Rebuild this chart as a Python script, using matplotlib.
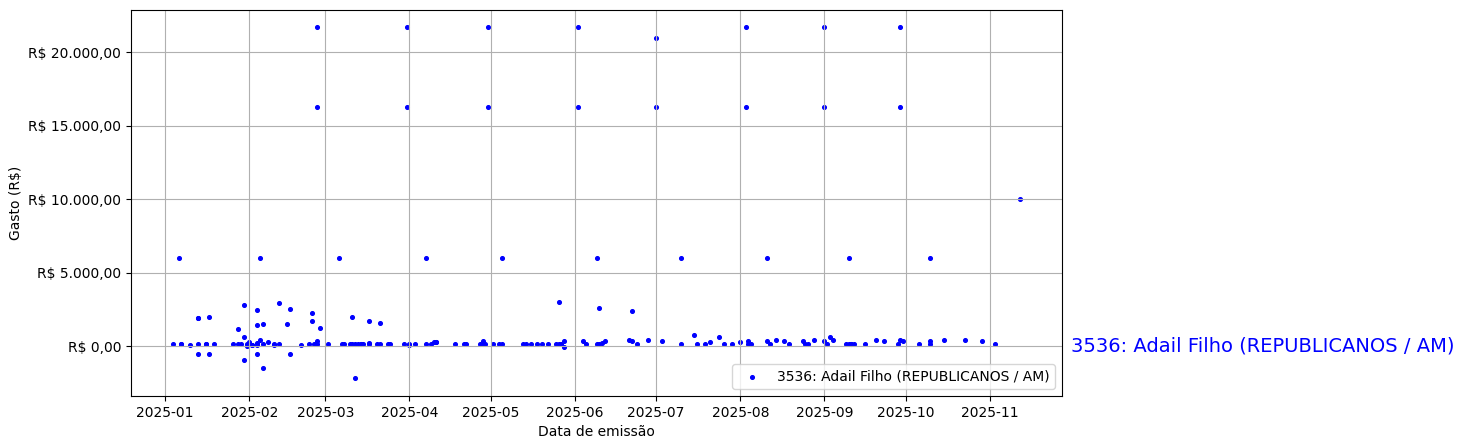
import matplotlib
matplotlib.use("Agg")
import matplotlib.pyplot as plt
import matplotlib.ticker as mticker
import matplotlib.transforms as mtransforms
import pandas as pd

label = "3536: Adail Filho (REPUBLICANOS / AM)"

datas = [
    "2025-01-04", "2025-01-06", "2025-01-07", "2025-01-07", "2025-01-10",
    "2025-01-13", "2025-01-13", "2025-01-13", "2025-01-13", "2025-01-16",
    "2025-01-16", "2025-01-17", "2025-01-17", "2025-01-19", "2025-01-26",
    "2025-01-28", "2025-01-28", "2025-01-29", "2025-01-30", "2025-01-30",
    "2025-01-30", "2025-01-31", "2025-01-31",
    "2025-02-01", "2025-02-02", "2025-02-02", "2025-02-04", "2025-02-04",
    "2025-02-04", "2025-02-04", "2025-02-04", "2025-02-05", "2025-02-05",
    "2025-02-06", "2025-02-06", "2025-02-06", "2025-02-08", "2025-02-10",
    "2025-02-10", "2025-02-12", "2025-02-12", "2025-02-15", "2025-02-16",
    "2025-02-16", "2025-02-20", "2025-02-23", "2025-02-24", "2025-02-24",
    "2025-02-25", "2025-02-26", "2025-02-26", "2025-02-26", "2025-02-26",
    "2025-02-27",
    "2025-03-02", "2025-03-06", "2025-03-07", "2025-03-08", "2025-03-10",
    "2025-03-11", "2025-03-11", "2025-03-12", "2025-03-12", "2025-03-13",
    "2025-03-14", "2025-03-14", "2025-03-15", "2025-03-17", "2025-03-17",
    "2025-03-17", "2025-03-20", "2025-03-21", "2025-03-21", "2025-03-24",
    "2025-03-25", "2025-03-30", "2025-03-31", "2025-03-31",
    "2025-04-01", "2025-04-01", "2025-04-03", "2025-04-07", "2025-04-07",
    "2025-04-09", "2025-04-10", "2025-04-11", "2025-04-11", "2025-04-18",
    "2025-04-21", "2025-04-22", "2025-04-27", "2025-04-28", "2025-04-28",
    "2025-04-29", "2025-04-30", "2025-04-30",
    "2025-05-02", "2025-05-04", "2025-05-05", "2025-05-05", "2025-05-13",
    "2025-05-14", "2025-05-16", "2025-05-18", "2025-05-20", "2025-05-22",
    "2025-05-25", "2025-05-26", "2025-05-26", "2025-05-27", "2025-05-28",
    "2025-05-28",
    "2025-06-02", "2025-06-02", "2025-06-04", "2025-06-05", "2025-06-09",
    "2025-06-09", "2025-06-10", "2025-06-10", "2025-06-11", "2025-06-12",
    "2025-06-21", "2025-06-22", "2025-06-22", "2025-06-24", "2025-06-28",
    "2025-07-01", "2025-07-01",
    "2025-07-03", "2025-07-10", "2025-07-10", "2025-07-15", "2025-07-16",
    "2025-07-19", "2025-07-21", "2025-07-24", "2025-07-26", "2025-07-29",
    "2025-08-01", "2025-08-03", "2025-08-03", "2025-08-04", "2025-08-04",
    "2025-08-05", "2025-08-11", "2025-08-11", "2025-08-12", "2025-08-14",
    "2025-08-17", "2025-08-19", "2025-08-24", "2025-08-25", "2025-08-26",
    "2025-08-28",
    "2025-09-01", "2025-09-01", "2025-09-01", "2025-09-02", "2025-09-03",
    "2025-09-04", "2025-09-10", "2025-09-09", "2025-09-10", "2025-09-11",
    "2025-09-11", "2025-09-12", "2025-09-16", "2025-09-20", "2025-09-23",
    "2025-09-28", "2025-09-29", "2025-09-29", "2025-09-29", "2025-09-30",
    "2025-10-06", "2025-10-10", "2025-10-10", "2025-10-10", "2025-10-15",
    "2025-10-23", "2025-10-29",
    "2025-11-03", "2025-11-12",
]

gastos = [
    115, 6000, 120, 130, 110,
    1950, 1920, 150, -500, 120,
    160, 1960, -500, 180, 180,
    1200, 180, 180, 590, 2780,
    -910, 120, -20,
    260, 100, 50, 2440, 1410,
    100, 220, -500, 6000, 410,
    1480, -1520, 180, 260, 100,
    120, 2910, 180, 1480, 2500,
    -550, 110, 115, 2230, 1690,
    115, 320, 115, 21700, 16300,
    1210,
    115, 6000, 115, 115, 180,
    1960, 115, 115, -2200, 115,
    115, 180, 180, 1690, 115,
    230, 180, 1550, 115, 115,
    180, 180, 21700, 16300,
    180, 50, 180, 6000, 115,
    115, 250, 250, 270, 180,
    115, 180, 180, 340, 180,
    115, 21700, 16300,
    180, 115, 6000, 180, 115,
    180, 115, 115, 115, 180,
    180, 3000, 115, 180, 320,
    -90,
    21700, 16300, 340, 180, 6000,
    115, 2570, 115, 230, 340,
    410, 320, 2390, 180, 450,
    21000, 16300,
    320, 6000, 115, 730, 115,
    115, 250, 590, 180, 180,
    250, 21700, 16300, 180, 320,
    115, 320, 6000, 115, 410,
    320, 180, 320, 115, 180,
    410,
    21700, 16300, 320, 180, 640,
    410, 6000, 115, 115, 150,
    150, 115, 115, 410, 320,
    115, 410, 21700, 16300, 320,
    115, 6000, 320, 115, 410,
    410, 320,
    180, 10000,
]

df = pd.DataFrame({"data": pd.to_datetime(datas), "gasto": gastos})


def brl(x, pos):
    s = f"{x:,.2f}"
    s = s.replace(",", "X").replace(".", ",").replace("X", ".")
    return f"R$ {s}"


fig = plt.figure(figsize=(14.64, 4.48), dpi=100)
ax = fig.add_subplot(1, 1, 1)
fig.subplots_adjust(left=0.0895, right=0.7254, top=0.978, bottom=0.116)

ax.scatter(df["data"], df["gasto"], s=7, color="blue", label=label)

ax.yaxis.set_major_formatter(mticker.FuncFormatter(brl))
ax.set_xlabel("Data de emissão")
ax.set_ylabel("Gasto (R$)")
ax.grid(True)
ax.legend(loc="lower right")

trans = mtransforms.blended_transform_factory(ax.transAxes, ax.transData)
ax.text(1.01, 0, label, transform=trans, color="blue", fontsize=14,
        va="center", ha="left")

fig.savefig("out.png", dpi=100)
